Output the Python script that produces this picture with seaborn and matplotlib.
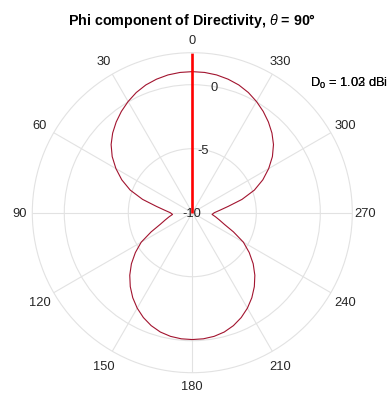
import numpy as np
import matplotlib
matplotlib.use("Agg")
import matplotlib.pyplot as plt
import seaborn as sns

# Azimuth cut of the phi-polarised directivity (theta = 90 deg), in dBi
azimuth_deg = list(range(0, 360, 5))
directivity_dbi = [
    1.02, 1.00, 0.93, 0.80, 0.62, 0.36, 0.03, -0.34, -0.75, -1.20,     # 0-45
    -1.72, -2.36, -3.11, -3.92, -4.84, -5.98, -7.15, -7.85, -8.28,     # 50-90
    -8.45, -8.16, -7.81, -7.33, -6.45, -5.39, -4.57, -3.79, -3.09,     # 95-135
    -2.46, -1.89, -1.39, -0.96, -0.61, -0.35, -0.19, -0.11, -0.09,     # 140-180
    -0.11, -0.19, -0.35, -0.61, -0.96, -1.39, -1.89, -2.46, -3.09,     # 185-225
    -3.79, -4.57, -5.39, -6.45, -7.33, -7.81, -8.16, -8.45, -8.28,     # 230-270
    -7.85, -7.15, -5.98, -4.84, -3.92, -3.11, -2.36, -1.72, -1.20,     # 275-315
    -0.75, -0.34, 0.03, 0.36, 0.62, 0.80, 0.93, 1.00,                  # 320-355
]
theta_ticks = list(range(0, 360, 30))
r_ticks = [-10, -5, 0]
r_limits = (-10, 2.5)
peak_azimuth_deg = 0
peak_labels = ["1.02", "1.03"]

sns.set_theme(style="white")
plt.rcParams["font.family"] = ["Liberation Sans", "DejaVu Sans"]
plt.rcParams["mathtext.fontset"] = "custom"
plt.rcParams["mathtext.rm"] = "Liberation Sans"
plt.rcParams["mathtext.it"] = "Liberation Sans:italic"
plt.rcParams["mathtext.bf"] = "Liberation Sans:bold"

W, H = 391, 394
PX2PT = 72 / 100
fig = plt.figure(figsize=(W / 100, H / 100), dpi=100)
fig.patch.set_facecolor("white")

cx, cy, R = 192.3, 212.7, 160.0
ax = fig.add_axes([(cx - R) / W, (H - cy - R) / H, 2 * R / W, 2 * R / H],
                  projection="polar")
ax.set_facecolor("white")
ax.set_theta_zero_location("N")
ax.set_theta_direction(1)

grid_col = "#e2e2e2"
text_col = "#262626"
label_fs = 9.3
half_cap_pt = 0.716 * label_fs / 2

theta = np.deg2rad(azimuth_deg + [360])
radius = directivity_dbi + [directivity_dbi[0]]
sns.lineplot(x=theta, y=radius, ax=ax, sort=False, estimator=None,
             color="#A2142F", linewidth=0.8)

# peak direction marker
ax.plot(np.deg2rad([peak_azimuth_deg, peak_azimuth_deg]), list(r_limits),
        color="red", linewidth=1.9, solid_capstyle="butt")

ax.set_rlim(*r_limits)
ax.set_thetagrids(theta_ticks, labels=[])
ax.set_rticks(r_ticks)
ax.set_yticklabels([])
ax.set_xlabel("")
ax.set_ylabel("")
ax.grid(True, color=grid_col, linewidth=0.8)
ax.spines["polar"].set_color(grid_col)
ax.spines["polar"].set_linewidth(0.8)
ax.tick_params(length=0)

# angle labels just outside the rim
for t in theta_ticks:
    a = np.deg2rad(t)
    off_px = 13.0 + 4.0 * abs(np.sin(2 * a))
    dx = -np.sin(a) * off_px * PX2PT
    dy = np.cos(a) * off_px * PX2PT - half_cap_pt
    ax.annotate(str(t), xy=(a, r_limits[1]), xytext=(dx, dy),
                textcoords="offset points", ha="center", va="baseline",
                fontsize=label_fs, color=text_col, annotation_clip=False)

# radial labels along the 350 deg spoke
for rv in r_ticks:
    ax.annotate(str(rv), xy=(np.deg2rad(350), rv), xytext=(0, -half_cap_pt),
                textcoords="offset points", ha="center", va="baseline",
                fontsize=label_fs, color=text_col, annotation_clip=False)

fig.text(cx / W, 1 - 25 / H, r"Phi component of Directivity, $\theta$ = 90°",
         ha="center", va="baseline", fontsize=10.3, fontweight="bold",
         color="black")

for lab in peak_labels:
    fig.text(310.5 / W, 1 - 87 / H, r"D$_0$ = " + lab + " dBi",
             ha="left", va="baseline", fontsize=label_fs, color="black")

fig.savefig("out.png", dpi=100)
